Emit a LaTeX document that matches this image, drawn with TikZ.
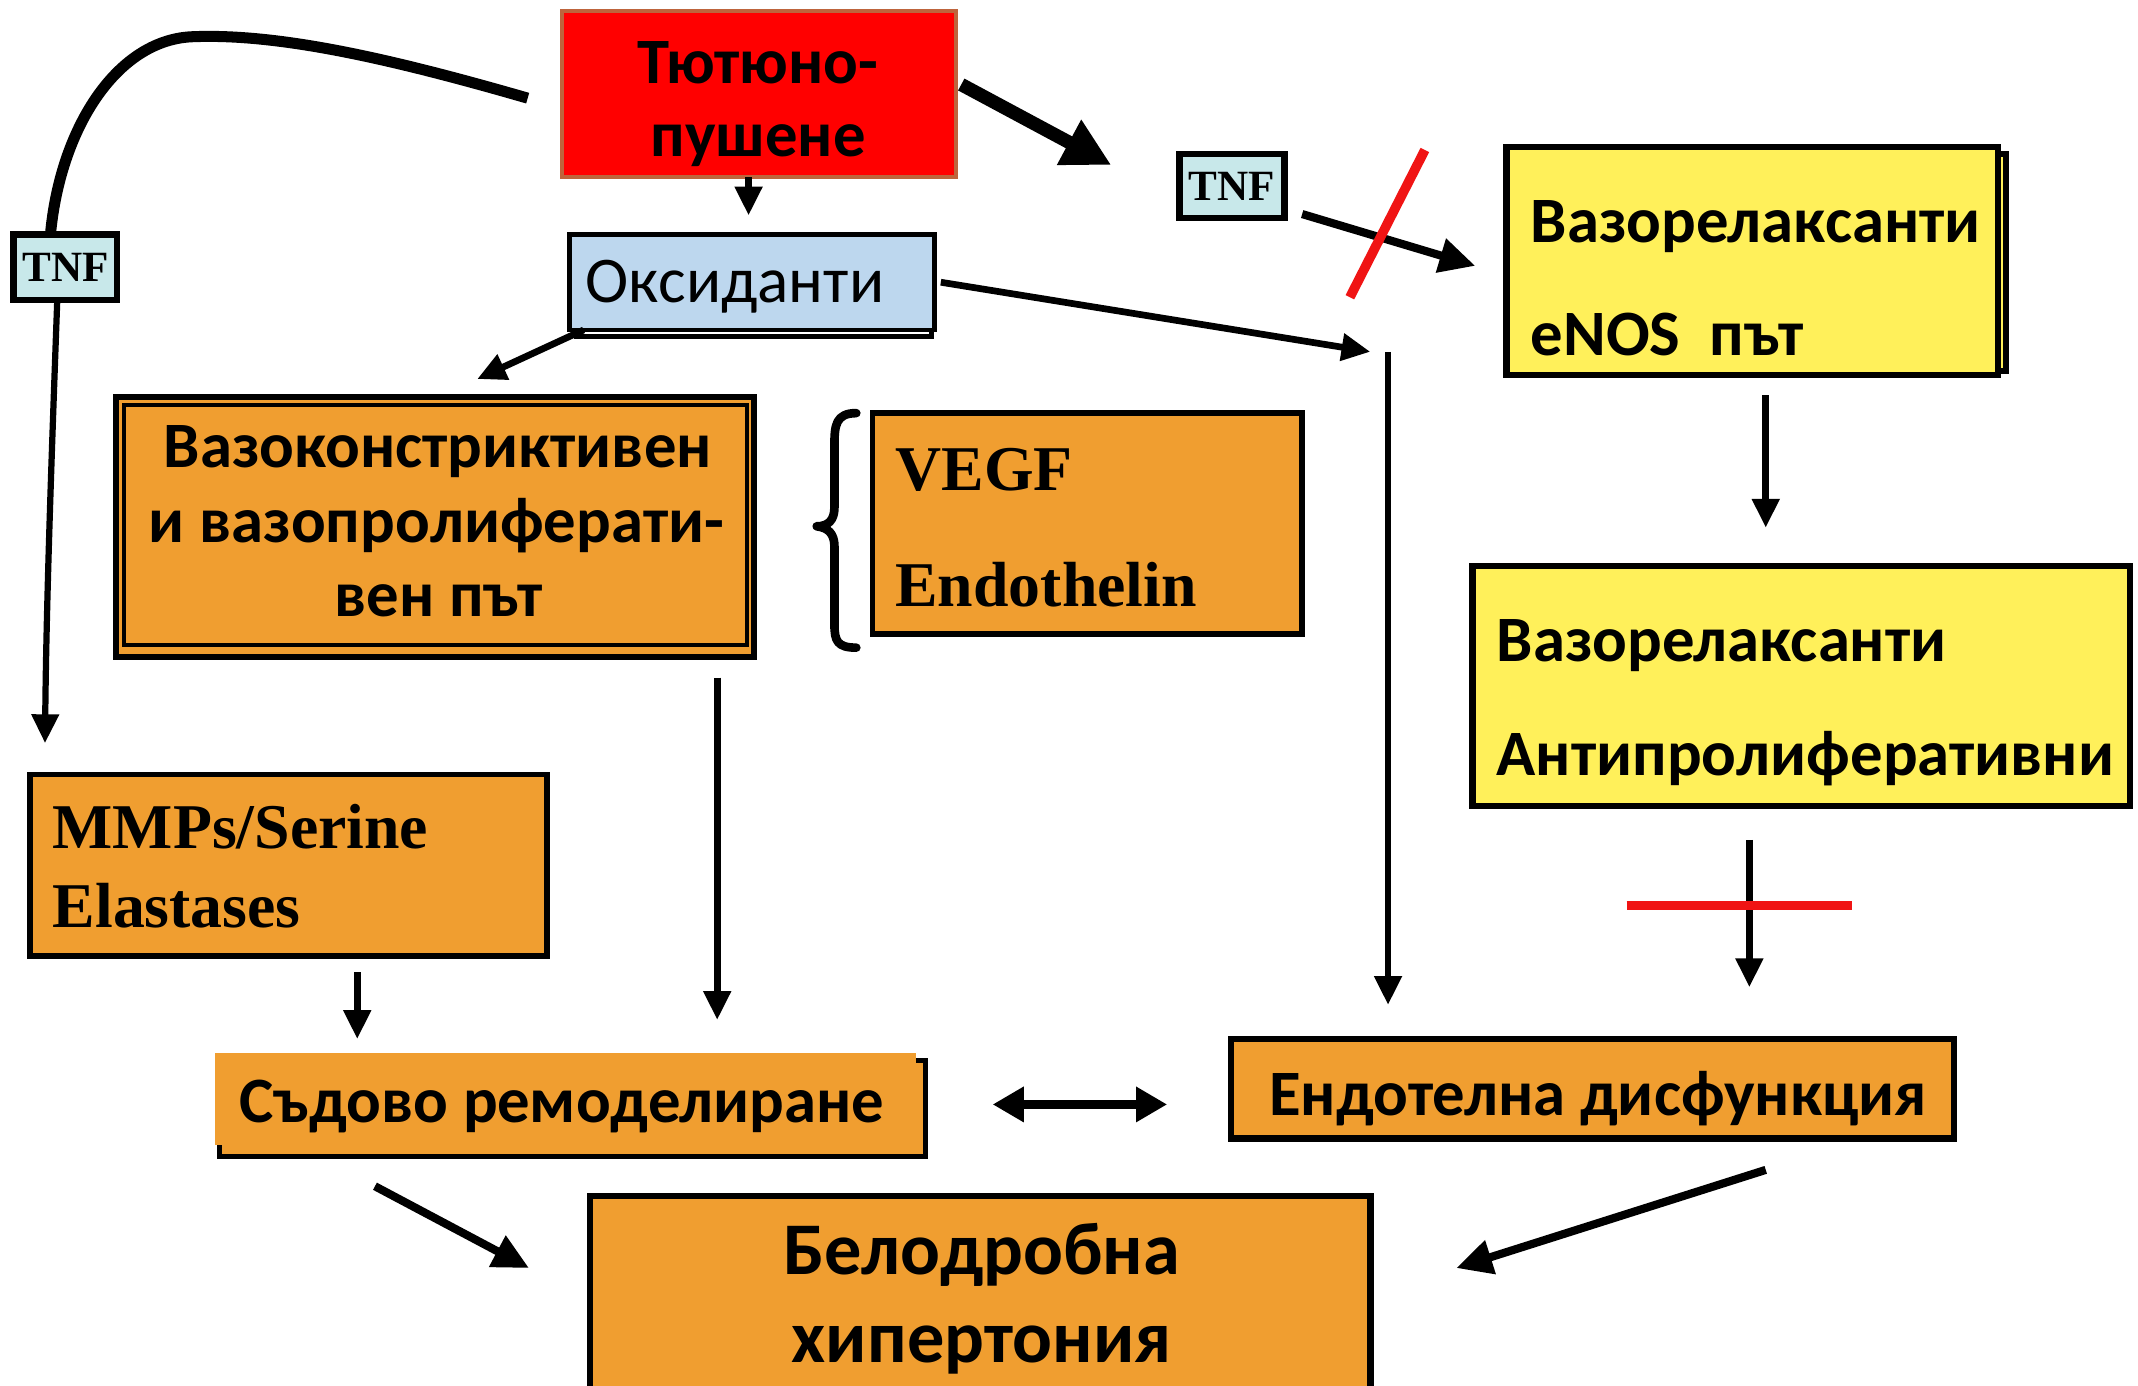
\documentclass[tikz,border=0pt]{standalone}
\usepackage{fontspec}
\setmainfont{Carlito}
\newfontfamily\seriffont{Liberation Serif}
\usetikzlibrary{arrows.meta}
\definecolor{boxorange}{RGB}{240,158,48}
\definecolor{boxyellow}{RGB}{255,240,90}
\definecolor{boxblue}{RGB}{189,215,238}
\definecolor{tnfcyan}{RGB}{200,232,234}
\definecolor{smokered}{RGB}{255,0,0}
\definecolor{smokeborder}{RGB}{190,100,60}
\definecolor{blockred}{RGB}{240,20,20}
\begin{document}
\begin{tikzpicture}[x=0.01cm,y=-0.01cm,
  boxbase/.style={inner sep=0pt, line width=1pt},
  orangebox/.style={boxbase, draw=black, fill=boxorange},
  yellowbox/.style={boxbase, draw=black, fill=boxyellow, line width=1.3pt},
  tnfbox/.style={boxbase, draw=black, fill=tnfcyan, line width=1.3pt,
     font=\seriffont\bfseries\fontsize{9}{10}\selectfont},
  txt/.style={inner sep=0pt, font=\bfseries\fontsize{13.5}{16}\selectfont},
  bigtxt/.style={inner sep=0pt, font=\bfseries\fontsize{15.5}{18}\selectfont},
  sertxt/.style={inner sep=0pt, font=\seriffont\bfseries\fontsize{13.3}{16}\selectfont},
  arr/.style={line width=1.4pt, -{Triangle[length=6pt,width=5.5pt]}},
  medarr/.style={line width=1.7pt, -{Triangle[length=7.5pt,width=7pt]}},
  thickarr/.style={line width=2.8pt, -{Triangle[length=10pt,width=10pt]}},
  blockline/.style={draw=blockred, line width=2pt}]
\useasboundingbox (0,0) rectangle (1568,1016);
\fill[white] (0,0) rectangle (1568,1016);

% ---------- boxes ----------
\node[boxbase, draw=smokeborder, fill=smokered, line width=0.8pt,
      minimum width=2.89cm, minimum height=1.22cm] (smoke) at (556.5,69) {};
\node[txt, anchor=base] (smoke1) at (556,61) {Тютюно-};
\node[txt, anchor=base] (smoke2) at (556,115) {пушене};

\draw[line width=1pt] (423,176) rectangle (683,247);
\node[boxbase, draw=black, fill=boxblue, line width=1pt,
      minimum width=2.67cm, minimum height=0.70cm] (ox) at (551.5,207) {};
\node[inner sep=0pt, font=\fontsize{13.6}{16}\selectfont, anchor=base] (oxt) at (539,222) {Оксиданти};

\node[tnfbox, minimum width=0.76cm, minimum height=0.48cm] (tnf1) at (48,196) {TNF};
\node[tnfbox, minimum width=0.77cm, minimum height=0.47cm] (tnf2) at (903.5,136.5) {TNF};

\draw[yellowbox] (1111,113) rectangle (1471,272);
\node[yellowbox, minimum width=3.60cm, minimum height=1.67cm] (vr1) at (1285,191.5) {};
\node[txt, anchor=base west] (vr1a) at (1122,178) {Вазорелаксанти};
\node[txt, anchor=base west] (vr1b) at (1122,261) {eNOS\ \ път};

\node[yellowbox, minimum width=4.82cm, minimum height=1.76cm] (vr2) at (1321,503) {};
\node[txt, anchor=base west] (vr2a) at (1097,485) {Вазорелаксанти};
\node[txt, anchor=base west] (vr2b) at (1097,569) {Антипролиферативни};

\node[orangebox, line width=1.3pt, minimum width=4.68cm, minimum height=1.91cm] (vc) at (319,386.5) {};
\draw[line width=0.9pt] (91,297) rectangle (548,473);
\node[txt, anchor=base] (vca) at (321,343) {Вазоконстриктивен};
\node[txt, anchor=base] (vcb) at (320,398) {и вазопролиферати-};
\node[txt, anchor=base] (vcc) at (322,452) {вен път};

\node[orangebox, line width=1.2pt, minimum width=3.15cm, minimum height=1.62cm] (vegf) at (797.5,384) {};
\node[sertxt, anchor=base west] (vegfa) at (656,360) {VEGF};
\node[sertxt, anchor=base west] (vegfb) at (656,445) {Endothelin};

\node[orangebox, line width=1.2pt, minimum width=3.79cm, minimum height=1.33cm] (mmp) at (211.5,634.5) {};
\node[sertxt, anchor=base west] (mmpa) at (38,622) {MMPs/Serine};
\node[sertxt, anchor=base west] (mmpb) at (38,680) {Elastases};

\draw[line width=1pt, fill=boxorange] (161,778) rectangle (679,848);
\node[boxbase, fill=boxorange, minimum width=5.14cm, minimum height=0.68cm] (sr) at (415,806) {};
\node[txt, anchor=base] (srt) at (412,823) {Съдово ремоделиране};

\node[orangebox, line width=1.3pt, minimum width=5.30cm, minimum height=0.73cm] (ed) at (1168,798.5) {};
\node[txt, anchor=base] (edt) at (1172,818) {Ендотелна дисфункция};

\begin{scope}
\clip (0,0) rectangle (1568,1016);
\node[orangebox, line width=1.3pt, minimum width=5.72cm, minimum height=1.53cm] (ph) at (719,953.5) {};
\end{scope}
\node[bigtxt, anchor=base] (pha) at (720,935) {Белодробна};
\node[bigtxt, anchor=base] (phb) at (720,999) {хипертония};

% ---------- brace ----------
\draw[line width=1.8pt, line join=round, line cap=round] (628,303) .. controls (613,303) and (612,312) .. (612,326)
   -- (612,372) .. controls (612,382) and (607,386) .. (599,386)
   .. controls (607,387) and (612,391) .. (612,401)
   -- (612,458) .. controls (612,470) and (614,475) .. (628,475);

% ---------- connector end points ----------
\coordinate (smokeOut) at (549,130);
\coordinate (oxIn) at (549,158);
\coordinate (curveStart) at (387,72);
\coordinate (curveTop) at (140,27);
\coordinate (tnf1in) at (37,172);
\coordinate (tnf1out) at (42,220);
\coordinate (mmpIn) at (33,545);
\coordinate (smokeR) at (705,62);
\coordinate (tnf2tip) at (815,121);
\coordinate (tnf2out) at (955,157);
\coordinate (vr1in) at (1082,195);
\coordinate (oxR) at (690,207);
\coordinate (oxTip) at (1005,258);
\coordinate (vTop) at (1018,258);
\coordinate (vBot) at (1018,737);
\coordinate (oxL) at (428,242);
\coordinate (vcTip) at (350,278);
\coordinate (vr1out) at (1295,290);
\coordinate (vr2in) at (1295,387);
\coordinate (vcout) at (526,497);
\coordinate (srTop) at (526,748);
\coordinate (mmpout) at (262,713);
\coordinate (srTopL) at (262,762);
\coordinate (srR) at (728,810);
\coordinate (edL) at (856,810);
\coordinate (vr2out) at (1283,616);
\coordinate (edTop) at (1283,724);
\coordinate (srout) at (275,870);
\coordinate (phL) at (388,930);
\coordinate (edout) at (1295,858);
\coordinate (phR) at (1068,930);

% ---------- connectors ----------
\draw[arr] (smokeOut) -- (oxIn);
\draw[line width=2.3pt] (curveStart) .. controls (290,44) and (205,24) .. (curveTop)
   .. controls (85,30) and (44,95) .. (tnf1in);
\draw[arr, line width=1.3pt] (tnf1out) .. controls (38,330) and (34,440) .. (mmpIn);
\draw[thickarr] (smokeR) -- (tnf2tip);
\draw[medarr] (tnf2out) -- (vr1in);
\draw[blockline] (1045,110) -- (990,218);
\draw[arr] (oxR) -- (oxTip);
\draw[arr] (vTop) -- (vBot);
\draw[arr] (oxL) -- (vcTip);
\draw[arr] (vr1out) -- (vr2in);
\draw[arr] (vcout) -- (srTop);
\draw[arr] (mmpout) -- (srTopL);
\draw[line width=1.8pt, {Triangle[length=6.5pt,width=7pt]}-{Triangle[length=6.5pt,width=7pt]}] (srR) -- (edL);
\draw[arr] (vr2out) -- (edTop);
\draw[blockline, line width=1.8pt] (1193,664) -- (1358,664);
\draw[medarr] (srout) -- (phL);
\draw[medarr] (edout) -- (phR);
\end{tikzpicture}
\end{document}
